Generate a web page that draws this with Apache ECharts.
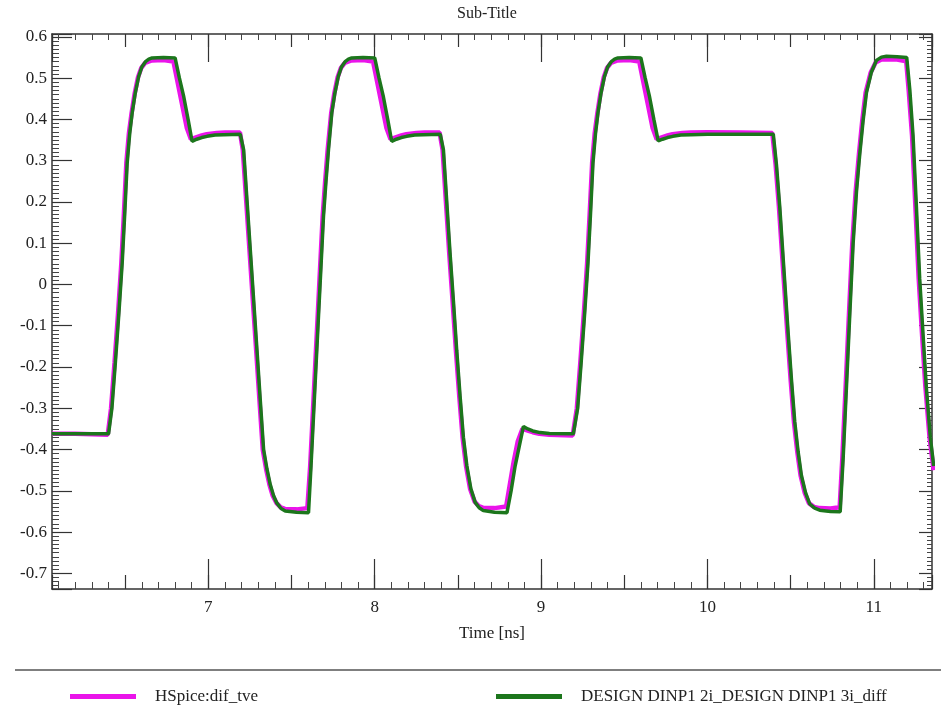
<!DOCTYPE html>
<html>
<head>
<meta charset="utf-8">
<title>Sub-Title</title>
<script src="https://cdn.jsdelivr.net/npm/echarts@6/dist/echarts.min.js"></script>
<style>
    html, body {
        margin: 0;
        padding: 0;
        background: #fff;
    }

    #mychart {
        width: 941px;
        height: 725px;
    }
</style>
</head>
<body>
<div id="mychart"></div>
<script>
    // series names as shown in the legend
    var seriesNames = ['HSpice:dif_tve', 'DESIGN DINP1 2i_DESIGN DINP1 3i_diff'];

    var timeRange = [6.06, 11.35];
    var voltRange = [-0.738, 0.607];

    // HSpice waveform, [time ns, volt]
    var hspice = [
        [6.06, -0.362], [6.2, -0.362], [6.395, -0.364],
        [6.415, -0.30], [6.436, -0.189], [6.457, -0.07], [6.477, 0.053], [6.492, 0.17], [6.507, 0.295],
        [6.522, 0.365], [6.538, 0.414], [6.557, 0.463], [6.577, 0.502], [6.597, 0.525], [6.62, 0.537],
        [6.66, 0.543], [6.73, 0.544], [6.79, 0.540],
        [6.81, 0.50], [6.84, 0.44], [6.87, 0.38], [6.895, 0.352], [6.93, 0.357], [6.96, 0.361],
        [6.99, 0.364], [7.05, 0.367], [7.1, 0.368], [7.19, 0.368],
        [7.207, 0.326], [7.227, 0.205], [7.247, 0.084], [7.267, -0.037], [7.287, -0.158], [7.307, -0.28],
        [7.327, -0.400], [7.347, -0.447], [7.367, -0.485], [7.387, -0.512], [7.41, -0.530], [7.435, -0.540],
        [7.46, -0.544], [7.53, -0.545], [7.595, -0.542],
        [7.612, -0.44], [7.627, -0.319], [7.642, -0.198], [7.657, -0.077], [7.672, 0.044], [7.687, 0.165],
        [7.702, 0.25], [7.717, 0.326], [7.738, 0.414], [7.757, 0.463], [7.777, 0.502], [7.797, 0.525],
        [7.82, 0.537], [7.86, 0.543], [7.93, 0.544], [7.99, 0.540],
        [8.01, 0.50], [8.04, 0.44], [8.07, 0.38], [8.095, 0.352], [8.13, 0.357], [8.16, 0.361],
        [8.19, 0.364], [8.25, 0.367], [8.3, 0.368], [8.39, 0.368],
        [8.408, 0.326], [8.428, 0.2], [8.448, 0.075], [8.468, -0.04], [8.488, -0.16], [8.508, -0.27],
        [8.528, -0.37], [8.549, -0.44], [8.573, -0.495], [8.6, -0.526], [8.625, -0.537], [8.65, -0.541],
        [8.72, -0.542], [8.79, -0.538],
        [8.81, -0.49], [8.835, -0.43], [8.86, -0.38], [8.888, -0.35], [8.92, -0.354], [8.95, -0.358],
        [8.99, -0.362], [9.05, -0.364], [9.19, -0.366],
        [9.215, -0.30], [9.236, -0.189], [9.257, -0.07], [9.277, 0.053], [9.292, 0.17], [9.307, 0.295],
        [9.322, 0.365], [9.338, 0.414], [9.357, 0.463], [9.377, 0.502], [9.397, 0.525], [9.42, 0.537],
        [9.46, 0.543], [9.53, 0.544], [9.59, 0.540],
        [9.61, 0.50], [9.64, 0.44], [9.67, 0.38], [9.695, 0.352], [9.73, 0.357], [9.76, 0.361],
        [9.79, 0.364], [9.85, 0.367], [9.9, 0.368], [10.0, 0.369], [10.2, 0.368], [10.39, 0.367],
        [10.41, 0.29], [10.43, 0.187], [10.455, 0.035], [10.48, -0.116], [10.5, -0.23], [10.52, -0.333],
        [10.54, -0.405], [10.56, -0.463], [10.585, -0.505], [10.61, -0.530], [10.64, -0.539], [10.675, -0.542],
        [10.74, -0.543], [10.795, -0.540],
        [10.811, -0.42], [10.831, -0.246], [10.851, -0.07], [10.871, 0.101], [10.891, 0.225], [10.911, 0.317],
        [10.931, 0.398], [10.951, 0.465], [10.981, 0.513], [11.011, 0.538], [11.046, 0.545], [11.076, 0.546],
        [11.14, 0.545], [11.195, 0.541],
        [11.21, 0.47], [11.23, 0.361], [11.25, 0.19], [11.27, 0.014], [11.29, -0.12], [11.31, -0.246],
        [11.335, -0.37], [11.36, -0.45]
    ];

    // DESIGN waveform, [time ns, volt]
    var design = [
        [6.06, -0.362], [6.2, -0.362], [6.4, -0.362],
        [6.42, -0.30], [6.441, -0.189], [6.462, -0.07], [6.482, 0.053], [6.497, 0.17], [6.512, 0.295],
        [6.527, 0.365], [6.542, 0.416], [6.561, 0.465], [6.581, 0.504], [6.60, 0.527], [6.622, 0.540],
        [6.642, 0.546], [6.662, 0.549], [6.73, 0.550], [6.80, 0.549],
        [6.826, 0.50], [6.852, 0.455], [6.878, 0.40], [6.902, 0.347], [6.93, 0.352], [6.96, 0.356],
        [6.992, 0.359], [7.04, 0.362], [7.092, 0.363], [7.192, 0.364],
        [7.212, 0.326], [7.232, 0.205], [7.252, 0.084], [7.272, -0.037], [7.292, -0.158], [7.312, -0.28],
        [7.332, -0.400], [7.352, -0.447], [7.372, -0.485], [7.392, -0.512], [7.412, -0.530], [7.437, -0.543],
        [7.462, -0.549], [7.53, -0.552], [7.602, -0.553],
        [7.617, -0.44], [7.632, -0.319], [7.647, -0.198], [7.662, -0.077], [7.677, 0.044], [7.692, 0.165],
        [7.707, 0.25], [7.722, 0.326], [7.742, 0.416], [7.761, 0.465], [7.781, 0.504], [7.80, 0.527],
        [7.822, 0.540], [7.842, 0.546], [7.862, 0.549], [7.93, 0.550], [8.0, 0.549],
        [8.026, 0.50], [8.052, 0.455], [8.078, 0.40], [8.102, 0.347], [8.13, 0.352], [8.16, 0.356],
        [8.192, 0.359], [8.24, 0.362], [8.29, 0.363], [8.394, 0.364],
        [8.413, 0.326], [8.433, 0.2], [8.453, 0.075], [8.473, -0.04], [8.493, -0.16], [8.513, -0.27],
        [8.533, -0.37], [8.554, -0.44], [8.578, -0.495], [8.604, -0.528], [8.628, -0.541], [8.653, -0.548],
        [8.72, -0.552], [8.795, -0.553],
        [8.82, -0.50], [8.844, -0.44], [8.87, -0.39], [8.894, -0.344], [8.92, -0.350], [8.95, -0.355],
        [8.994, -0.359], [9.05, -0.361], [9.194, -0.362],
        [9.22, -0.30], [9.241, -0.189], [9.262, -0.07], [9.282, 0.053], [9.297, 0.17], [9.312, 0.295],
        [9.327, 0.365], [9.342, 0.416], [9.361, 0.465], [9.381, 0.504], [9.40, 0.527], [9.422, 0.540],
        [9.442, 0.546], [9.462, 0.549], [9.53, 0.550], [9.60, 0.549],
        [9.626, 0.50], [9.652, 0.455], [9.678, 0.40], [9.704, 0.348], [9.73, 0.352], [9.76, 0.356],
        [9.792, 0.359], [9.84, 0.362], [9.9, 0.363], [10.0, 0.364], [10.2, 0.364], [10.396, 0.364],
        [10.415, 0.29], [10.435, 0.187], [10.46, 0.035], [10.485, -0.116], [10.505, -0.23], [10.525, -0.333],
        [10.545, -0.405], [10.565, -0.463], [10.59, -0.505], [10.615, -0.532], [10.645, -0.542], [10.675, -0.547],
        [10.74, -0.550], [10.798, -0.551],
        [10.816, -0.42], [10.836, -0.246], [10.856, -0.07], [10.876, 0.101], [10.896, 0.225], [10.916, 0.317],
        [10.936, 0.398], [10.956, 0.465], [10.986, 0.515], [11.016, 0.543], [11.046, 0.551], [11.076, 0.553],
        [11.14, 0.552], [11.198, 0.550],
        [11.217, 0.47], [11.236, 0.361], [11.256, 0.19], [11.276, 0.014], [11.296, -0.12], [11.316, -0.25],
        [11.34, -0.37], [11.36, -0.44]
    ];

    var colors = ['#ea14ea', '#1c761c'];
    var serif = '"Liberation Serif", "Times New Roman", serif';
    var ink = '#222';

    // helper for the tick-only axes of the frame
    function xTicks(position, split, tickLen, minorLen, showLine) {
        return {
            type: 'value',
            position: position,
            min: timeRange[0],
            max: timeRange[1],
            splitNumber: split,
            axisLine: {show: showLine, onZero: false, lineStyle: {color: '#333', width: 1.5}},
            axisTick: {show: true, inside: true, length: tickLen, lineStyle: {color: '#333', width: 1.2}},
            minorTick: {show: minorLen > 0, splitNumber: 5, length: minorLen, lineStyle: {color: '#444', width: 1}},
            axisLabel: {show: false},
            splitLine: {show: false}
        };
    }

    function yTicks(position, tickLen, minorLen) {
        return {
            type: 'value',
            position: position,
            min: voltRange[0],
            max: voltRange[1],
            splitNumber: 13,
            axisLine: {show: true, onZero: false, lineStyle: {color: '#333', width: 1.5}},
            axisTick: {show: true, inside: true, length: tickLen, lineStyle: {color: '#333', width: 1.2}},
            minorTick: {show: true, splitNumber: 10, length: minorLen, lineStyle: {color: '#444', width: 1}},
            axisLabel: {show: false},
            splitLine: {show: false}
        };
    }

    var mychart = echarts.init(document.getElementById('mychart'));

    var xMain = xTicks('bottom', 5, 30, 0, true);
    xMain.axisLabel = {
        show: true,
        margin: 10,
        showMinLabel: false,
        showMaxLabel: false,
        fontFamily: serif,
        fontSize: 17,
        color: ink
    };
    xMain.name = 'Time [ns]';
    xMain.nameLocation = 'middle';
    xMain.nameGap = 36;
    xMain.nameTextStyle = {fontFamily: serif, fontSize: 17, color: ink};

    var yMain = yTicks('left', 20, 7);
    yMain.axisLabel = {
        show: true,
        margin: 5,
        showMinLabel: false,
        showMaxLabel: false,
        fontFamily: serif,
        fontSize: 17,
        color: ink
    };

    var option = {
        backgroundColor: '#fff',
        animation: false,
        title: {
            text: 'Sub-Title',
            left: 452,
            top: 1,
            textStyle: {fontFamily: serif, fontSize: 16, fontWeight: 'normal', color: ink}
        },
        legend: [{
            data: [seriesNames[0]],
            left: 65,
            top: 683,
            icon: 'rect',
            itemWidth: 66,
            itemHeight: 5,
            textStyle: {fontFamily: serif, fontSize: 17, color: ink, padding: [0, 0, 0, 14]}
        }, {
            data: [seriesNames[1]],
            left: 491,
            top: 683,
            icon: 'rect',
            itemWidth: 66,
            itemHeight: 5,
            textStyle: {fontFamily: serif, fontSize: 17, color: ink, padding: [0, 0, 0, 14]}
        }],
        grid: {
            left: 52,
            right: 9,
            top: 34,
            bottom: 136,
            outerBoundsMode: 'none',
            containLabel: false
        },
        xAxis: [
            xMain,
            xTicks('bottom', 10, 14, 7, false),
            xTicks('top', 5, 28, 0, true),
            xTicks('top', 10, 13, 6, false)
        ],
        yAxis: [
            yMain,
            yTicks('right', 13, 5)
        ],
        graphic: [{
            type: 'line',
            shape: {x1: 15, y1: 670, x2: 941, y2: 670},
            style: {stroke: '#555', lineWidth: 1.5}
        }],
        series: [{
            name: seriesNames[0],
            type: 'line',
            data: hspice,
            showSymbol: false,
            color: colors[0],
            lineStyle: {width: 4.5, color: colors[0]},
            clip: true
        }, {
            name: seriesNames[1],
            type: 'line',
            data: design,
            showSymbol: false,
            color: colors[1],
            lineStyle: {width: 3.5, color: colors[1]},
            clip: true
        }]
    };
    mychart.setOption(option);
</script>
</body>
</html>
